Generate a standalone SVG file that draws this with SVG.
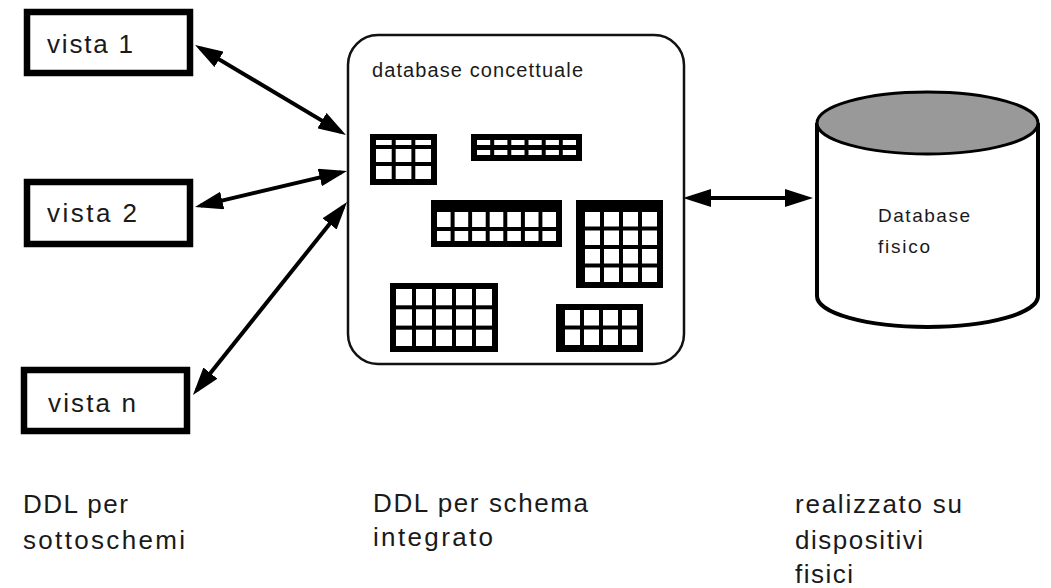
<svg xmlns="http://www.w3.org/2000/svg" width="1051" height="588" viewBox="0 0 1051 588">
<style>
.box{fill:#fff;stroke:#000;stroke-width:6.5}
.t{font-family:"Liberation Sans",Arial,sans-serif;fill:#1a1a1a}
.lbl{font-size:26px}
.small{font-size:20px}
.tb{fill:#000}
.c{fill:#fff}
.conn{stroke:#000;stroke-width:4;fill:none;marker-start:url(#ah);marker-end:url(#ah)}
</style>
<defs>
<marker id="ah" viewBox="0 0 28 18" refX="22" refY="9" markerWidth="28" markerHeight="18" markerUnits="userSpaceOnUse" orient="auto-start-reverse">
<path d="M0,0 L28,9 L0,18 z" fill="#000"/>
</marker>
</defs>
<rect width="1051" height="588" fill="#fff"/>

<g id="vista1">
<rect class="box" x="27" y="12" width="163" height="61"/>
<text class="t lbl" x="47" y="53" textLength="86">vista 1</text>
</g>
<g id="vista2">
<rect class="box" x="27" y="182" width="163" height="62"/>
<text class="t lbl" x="47" y="222" textLength="90">vista 2</text>
</g>
<g id="vistan">
<rect class="box" x="24" y="370" width="163" height="61"/>
<text class="t lbl" x="48" y="412" textLength="88">vista n</text>
</g>

<g id="concettuale">
<rect x="348" y="35" width="336" height="329" rx="30" ry="30" fill="#fff" stroke="#111" stroke-width="2.5"/>
<text class="t small" x="372" y="77" textLength="211">database concettuale</text>
<g id="table1">
<rect class="tb" x="370" y="134" width="67" height="51"/>
<rect class="c" x="376" y="140" width="15.7" height="5"/><rect class="c" x="395.7" y="140" width="15.7" height="5"/><rect class="c" x="415.3" y="140" width="15.7" height="5"/>
<rect class="c" x="376" y="149" width="15.7" height="13"/><rect class="c" x="395.7" y="149" width="15.7" height="13"/><rect class="c" x="415.3" y="149" width="15.7" height="13"/>
<rect class="c" x="376" y="166" width="15.7" height="13"/><rect class="c" x="395.7" y="166" width="15.7" height="13"/><rect class="c" x="415.3" y="166" width="15.7" height="13"/>
</g>
<g id="table2">
<rect class="tb" x="471" y="134" width="111" height="27"/>
<rect class="c" x="477" y="140" width="13.2" height="5"/><rect class="c" x="494.2" y="140" width="13.2" height="5"/><rect class="c" x="511.3" y="140" width="13.2" height="5"/><rect class="c" x="528.5" y="140" width="13.2" height="5"/><rect class="c" x="545.7" y="140" width="13.2" height="5"/><rect class="c" x="562.8" y="140" width="13.2" height="5"/>
<rect class="c" x="477" y="150" width="13.2" height="5"/><rect class="c" x="494.2" y="150" width="13.2" height="5"/><rect class="c" x="511.3" y="150" width="13.2" height="5"/><rect class="c" x="528.5" y="150" width="13.2" height="5"/><rect class="c" x="545.7" y="150" width="13.2" height="5"/><rect class="c" x="562.8" y="150" width="13.2" height="5"/>
</g>
<g id="table3">
<rect class="tb" x="431" y="200" width="131" height="47"/>
<rect class="c" x="437" y="212" width="13.6" height="15"/><rect class="c" x="454.6" y="212" width="13.6" height="15"/><rect class="c" x="472.1" y="212" width="13.6" height="15"/><rect class="c" x="489.7" y="212" width="13.6" height="15"/><rect class="c" x="507.3" y="212" width="13.6" height="15"/><rect class="c" x="524.9" y="212" width="13.6" height="15"/><rect class="c" x="542.4" y="212" width="13.6" height="15"/>
<rect class="c" x="437" y="231" width="13.6" height="10"/><rect class="c" x="454.6" y="231" width="13.6" height="10"/><rect class="c" x="472.1" y="231" width="13.6" height="10"/><rect class="c" x="489.7" y="231" width="13.6" height="10"/><rect class="c" x="507.3" y="231" width="13.6" height="10"/><rect class="c" x="524.9" y="231" width="13.6" height="10"/><rect class="c" x="542.4" y="231" width="13.6" height="10"/>
</g>
<g id="table4">
<rect class="tb" x="576" y="200" width="87" height="88"/>
<rect class="c" x="585" y="212" width="15" height="14.5"/><rect class="c" x="604" y="212" width="15" height="14.5"/><rect class="c" x="623" y="212" width="15" height="14.5"/><rect class="c" x="642" y="212" width="15" height="14.5"/>
<rect class="c" x="585" y="230.5" width="15" height="14.5"/><rect class="c" x="604" y="230.5" width="15" height="14.5"/><rect class="c" x="623" y="230.5" width="15" height="14.5"/><rect class="c" x="642" y="230.5" width="15" height="14.5"/>
<rect class="c" x="585" y="249" width="15" height="14.5"/><rect class="c" x="604" y="249" width="15" height="14.5"/><rect class="c" x="623" y="249" width="15" height="14.5"/><rect class="c" x="642" y="249" width="15" height="14.5"/>
<rect class="c" x="585" y="267.5" width="15" height="14.5"/><rect class="c" x="604" y="267.5" width="15" height="14.5"/><rect class="c" x="623" y="267.5" width="15" height="14.5"/><rect class="c" x="642" y="267.5" width="15" height="14.5"/>
</g>
<g id="table5">
<rect class="tb" x="390" y="283" width="108" height="69"/>
<rect class="c" x="396" y="289" width="16" height="16.3"/><rect class="c" x="416" y="289" width="16" height="16.3"/><rect class="c" x="436" y="289" width="16" height="16.3"/><rect class="c" x="456" y="289" width="16" height="16.3"/><rect class="c" x="476" y="289" width="16" height="16.3"/>
<rect class="c" x="396" y="309.3" width="16" height="16.3"/><rect class="c" x="416" y="309.3" width="16" height="16.3"/><rect class="c" x="436" y="309.3" width="16" height="16.3"/><rect class="c" x="456" y="309.3" width="16" height="16.3"/><rect class="c" x="476" y="309.3" width="16" height="16.3"/>
<rect class="c" x="396" y="329.7" width="16" height="16.3"/><rect class="c" x="416" y="329.7" width="16" height="16.3"/><rect class="c" x="436" y="329.7" width="16" height="16.3"/><rect class="c" x="456" y="329.7" width="16" height="16.3"/><rect class="c" x="476" y="329.7" width="16" height="16.3"/>
</g>
<g id="table6">
<rect class="tb" x="556" y="304" width="87" height="48"/>
<rect class="c" x="565" y="310" width="15" height="15.5"/><rect class="c" x="584" y="310" width="15" height="15.5"/><rect class="c" x="603" y="310" width="15" height="15.5"/><rect class="c" x="622" y="310" width="15" height="15.5"/>
<rect class="c" x="565" y="329.5" width="15" height="15.5"/><rect class="c" x="584" y="329.5" width="15" height="15.5"/><rect class="c" x="603" y="329.5" width="15" height="15.5"/><rect class="c" x="622" y="329.5" width="15" height="15.5"/>
</g>
</g>

<g id="fisico">
<path d="M817,123 L817,296 A110.5,31 0 0 0 1038,296 L1038,123" fill="#fff" stroke="#000" stroke-width="4"/>
<ellipse cx="927.5" cy="123" rx="110.5" ry="31" fill="#999" stroke="#000" stroke-width="3"/>
<text class="t" font-size="19" x="878" y="222" textLength="92">Database</text>
<text class="t" font-size="19" x="878" y="253" textLength="52">fisico</text>
</g>

<g id="connectors">
<line class="conn" x1="200.2" y1="48.1" x2="340.8" y2="131.9"/>
<line class="conn" x1="200.8" y1="205.6" x2="341.2" y2="172.4"/>
<line class="conn" x1="196.7" y1="390.3" x2="343.3" y2="206.7"/>
<line class="conn" x1="689" y1="198" x2="807" y2="198"/>
</g>

<g id="captions">
<text class="t lbl" x="23" y="513" textLength="105">DDL per</text>
<text class="t lbl" x="23" y="549" textLength="162">sottoschemi</text>
<text class="t lbl" x="373" y="512" textLength="215">DDL per schema</text>
<text class="t lbl" x="373" y="546" textLength="120">integrato</text>
<text class="t lbl" x="795" y="513" textLength="167">realizzato su</text>
<text class="t lbl" x="795" y="549" textLength="128">dispositivi</text>
<text class="t lbl" x="795" y="583" textLength="58">fisici</text>
</g>
</svg>
